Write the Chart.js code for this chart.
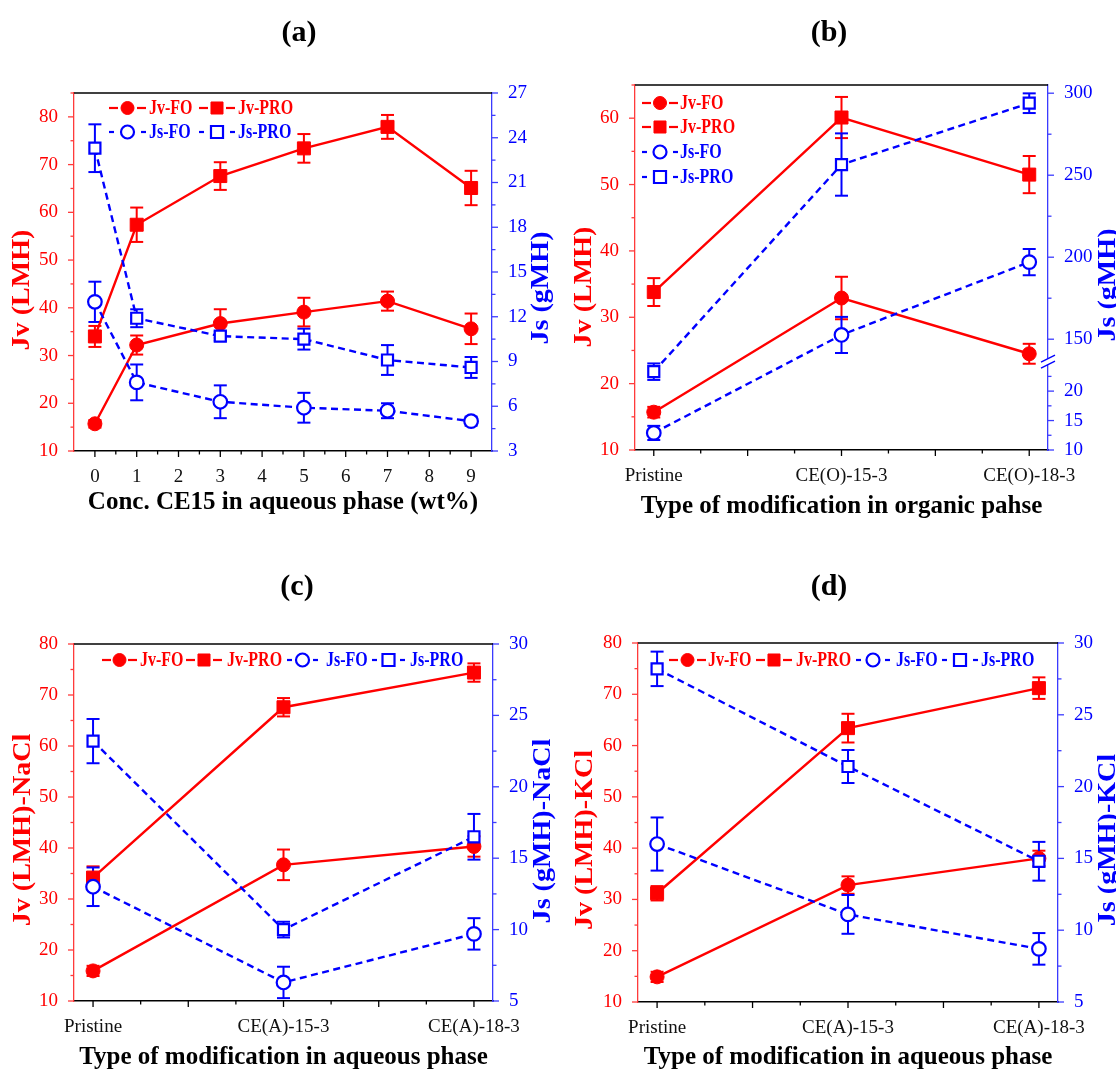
<!DOCTYPE html>
<html>
<head>
<meta charset="utf-8">
<script src="https://cdn.jsdelivr.net/npm/chart.js@4.4.1/dist/chart.umd.min.js"></script>
<style>
  html, body { margin: 0; padding: 0; background: #fff; }
  #wrap { position: relative; width: 1116px; height: 1073px; overflow: hidden; }
  canvas { position: absolute; }
</style>
</head>
<body>
<div id="wrap">
  <canvas id="cA" width="558" height="540" style="left:0;top:0"></canvas>
  <canvas id="cB" width="558" height="540" style="left:558px;top:0"></canvas>
  <canvas id="cC" width="558" height="533" style="left:0;top:540px"></canvas>
  <canvas id="cD" width="558" height="533" style="left:558px;top:540px"></canvas>
</div>
<script>
// ---- data ----
// (a) Conc. CE15 in aqueous phase
const concA = [0, 1, 3, 5, 7, 9];
const jvFoA = [15.7, 32.2, 36.7, 39.1, 41.4, 35.6];
const jvFoErrA = [0.8, 2.0, 3.0, 3.0, 2.0, 3.2];
const jvProA = [34.0, 57.4, 67.6, 73.4, 77.9, 65.1];
const jvProErrA = [2.2, 3.6, 2.9, 3.0, 2.5, 3.6];
const jsFoA = [13.0, 7.6, 6.3, 5.9, 5.7, 5.0];
const jsFoErrA = [1.35, 1.2, 1.1, 1.0, 0.5, 0.3];
const jsProA = [23.3, 11.9, 10.7, 10.5, 9.1, 8.6];
const jsProErrA = [1.6, 0.6, 0.3, 0.7, 1.0, 0.7];

// (b) organic phase modification
const catsB = ['Pristine', 'CE(O)-15-3', 'CE(O)-18-3'];
const jvFoB = [15.7, 32.9, 24.5];
const jvFoErrB = [0.8, 3.2, 1.5];
const jvProB = [33.8, 60.1, 51.5];
const jvProErrB = [2.1, 3.1, 2.8];
const jsFoB = [12.9, 152.6, 197.0];
const jsFoErrB = [1.2, 11, 8];
const jsProB = [23.3, 256.5, 293.9];
const jsProErrB = [1.4, 19, 6];

// (c) aqueous phase modification, NaCl
const catsC = ['Pristine', 'CE(A)-15-3', 'CE(A)-18-3'];
const jvFoC = [15.9, 36.7, 40.3];
const jvFoErrC = [1.0, 3.0, 2.0];
const jvProC = [34.2, 67.6, 74.4];
const jvProErrC = [2.2, 1.8, 1.8];
const jsFoC = [13.0, 6.3, 9.7];
const jsFoErrC = [1.35, 1.1, 1.1];
const jsProC = [23.2, 10.0, 16.5];
const jsProErrC = [1.55, 0.55, 1.6];

// (d) aqueous phase modification, KCl
const catsD = ['Pristine', 'CE(A)-15-3', 'CE(A)-18-3'];
const jvFoD = [14.9, 32.8, 38.0];
const jvFoErrD = [1.0, 1.7, 1.5];
const jvProD = [31.2, 63.4, 71.2];
const jvProErrD = [1.4, 2.8, 2.1];
const jsFoD = [16.0, 11.1, 8.7];
const jsFoErrD = [1.85, 1.35, 1.1];
const jsProD = [28.2, 21.4, 14.8];
const jsProErrD = [1.2, 1.15, 1.35];

// ---- tick values ----
const xTicksA = [0, 1, 2, 3, 4, 5, 6, 7, 8, 9];
const xMinorA = [0.5, 1.5, 2.5, 3.5, 4.5, 5.5, 6.5, 7.5, 8.5];
const catTicks = [0, 1, 2];
const catLong = [0.5, 1.5];
const catMinor = [0.25, 0.75, 1.25, 1.75];
const jvTicksA = [10, 20, 30, 40, 50, 60, 70, 80];
const jvMinorA = [15, 25, 35, 45, 55, 65, 75, 85];
const jsTicksA = [3, 6, 9, 12, 15, 18, 21, 24, 27];
const jsMinorA = [4.5, 7.5, 10.5, 13.5, 16.5, 19.5, 22.5, 25.5];
const jvTicksB = [10, 20, 30, 40, 50, 60];
const jvMinorB = [15, 25, 35, 45, 55, 65];
const jsTicksB = [10, 15, 20, 150, 200, 250, 300];
const jsMinorB = [12.5, 17.5, 22.5, 175, 225, 275];
const jvTicksCD = [10, 20, 30, 40, 50, 60, 70, 80];
const jvMinorCD = [15, 25, 35, 45, 55, 65, 75];
const jsTicksCD = [5, 10, 15, 20, 25, 30];
const jsMinorCD = [7.5, 12.5, 17.5, 22.5, 27.5];

const SERIF = '"Liberation Serif", "Times New Roman", serif';
const RED = '#ff0000';
const BLUE = '#0000ff';
const RED_AXIS = '#ff3b3b';
const BLUE_AXIS = '#3b3bff';

// linear scale with a gap (used for Js in panel b)
class BrokenScale extends Chart.LinearScale {
  getPixelForValue(v) {
    const b = this.options.brk;
    const lowH = (this.bottom - this.top) * b.lowFrac;
    const yb = this.bottom - lowH;
    if (v <= b.lowMax) return this.bottom - (v - this.min) / (b.lowMax - this.min) * lowH;
    return yb - (v - b.highMin) / (this.max - b.highMin) * (yb - this.top);
  }
  getValueForPixel(px) {
    const b = this.options.brk;
    const lowH = (this.bottom - this.top) * b.lowFrac;
    const yb = this.bottom - lowH;
    if (px >= yb) return this.min + (this.bottom - px) / lowH * (b.lowMax - this.min);
    return b.highMin + (yb - px) / (yb - this.top) * (this.max - b.highMin);
  }
}
BrokenScale.id = 'broken';
BrokenScale.defaults = Chart.LinearScale.defaults;
Chart.register(BrokenScale);

function tickList(major, minor, long) {
  return major.map(v => ({value: v}))
    .concat(minor.map(v => ({value: v, minor: true})))
    .concat((long || []).map(v => ({value: v, hide: true})))
    .sort((a, b) => a.value - b.value);
}

function ds(label, xs, ys, errs) {
  const jv = label.startsWith('Jv');
  const fo = label.endsWith('FO');
  const c = jv ? RED : BLUE;
  const r = fo ? (jv ? 7 : 6.8) : (jv ? 9.2 : 7.8);
  return {
    label: label,
    errors: errs,
    data: xs.map((x, i) => ({x: x, y: ys[i]})),
    yAxisID: jv ? 'y' : 'y2',
    order: jv ? 1 : 0,
    borderColor: c,
    backgroundColor: c,
    borderWidth: 2.4,
    borderDash: jv ? [] : [7, 4.5],
    pointStyle: fo ? 'circle' : 'rect',
    pointRadius: r,
    pointHoverRadius: r,
    pointBackgroundColor: jv ? c : '#fff',
    pointBorderColor: c,
    pointBorderWidth: jv ? 1 : 2.2,
    tension: 0
  };
}

function axisX(min, max, ticks, fmt, title, h, tpad) {
  return {
    type: 'linear', position: 'bottom', min: min, max: max,
    grid: {display: false},
    border: {display: true, color: '#000', width: 1.5},
    afterBuildTicks: s => { s.ticks = ticks.map(t => Object.assign({}, t)); },
    afterFit: s => { s.height = h; },
    ticks: {
      autoSkip: false, maxRotation: 0, padding: 7, color: '#111',
      font: {family: SERIF, size: 19},
      callback: (v, i, ts) => (ts[i].minor || ts[i].hide) ? '' : fmt(v)
    },
    title: {display: true, text: title, color: '#000',
      font: {family: SERIF, size: 25, weight: 'bold'}, padding: {top: 0, bottom: tpad}}
  };
}

function axisY(pos, min, max, ticks, color, axisColor, w, extra) {
  return Object.assign({
    type: 'linear', position: pos, min: min, max: max,
    grid: {display: false},
    border: {display: true, color: axisColor, width: 1.3},
    afterBuildTicks: s => { s.ticks = ticks.map(t => Object.assign({}, t)); },
    afterFit: s => { s.width = w; },
    ticks: {
      autoSkip: false, padding: 8, color: color,
      font: {family: SERIF, size: 19},
      callback: (v, i, ts) => ts[i].minor ? '' : String(v)
    }
  }, extra || {});
}

function line(ctx, x0, y0, x1, y1) {
  ctx.beginPath(); ctx.moveTo(x0, y0); ctx.lineTo(x1, y1); ctx.stroke();
}

const deco = {
  id: 'deco',
  beforeDatasetsDraw(chart) {
    const ctx = chart.ctx;
    chart.data.datasets.forEach((d, i) => {
      const meta = chart.getDatasetMeta(i);
      const xs = chart.scales[meta.xAxisID], ys = chart.scales[meta.yAxisID];
      ctx.save();
      ctx.strokeStyle = d.borderColor;
      ctx.lineWidth = 2;
      d.data.forEach((p, j) => {
        const e = d.errors[j];
        const x = xs.getPixelForValue(p.x);
        const top = ys.getPixelForValue(p.y + e), bot = ys.getPixelForValue(p.y - e);
        line(ctx, x, top, x, bot);
        line(ctx, x - 6.5, top, x + 6.5, top);
        line(ctx, x - 6.5, bot, x + 6.5, bot);
      });
      ctx.restore();
    });
  },
  afterDraw(chart, args, o) {
    const ctx = chart.ctx, a = chart.chartArea;
    ctx.save();
    ctx.strokeStyle = '#000';
    ctx.lineWidth = 1.5;
    line(ctx, a.left, a.top, a.right, a.top);

    // tick marks, long for majors and short for minors
    Object.values(chart.scales).forEach(s => {
      ctx.strokeStyle = s.options.border.color;
      ctx.lineWidth = 1.3;
      s.ticks.forEach(t => {
        const p = s.getPixelForValue(t.value);
        const len = t.minor ? 3.5 : 6;
        if (s.isHorizontal()) line(ctx, p, s.top, p, s.top + len);
        else if (s.position === 'left') line(ctx, s.right, p, s.right - len, p);
        else line(ctx, s.left, p, s.left + len, p);
      });
    });

    // axis break marks
    if (o.brk) {
      const s = chart.scales.y2;
      const yb = s.getPixelForValue(o.brk);
      ctx.fillStyle = '#fff';
      ctx.fillRect(s.left - 2, yb - 3, 4, 6);
      ctx.strokeStyle = BLUE;
      ctx.lineWidth = 1.5;
      line(ctx, s.left - 7, yb - 3 + 3.5, s.left + 7, yb - 3 - 3.5);
      line(ctx, s.left - 7, yb + 3 + 3.5, s.left + 7, yb + 3 - 3.5);
    }

    // legend
    chart.data.datasets.forEach((d, k) => {
      const it = o.legend[k];
      const seg = d.borderDash.length ? 5 : 9;
      ctx.setLineDash([]);
      ctx.strokeStyle = d.borderColor;
      ctx.lineWidth = 2.2;
      line(ctx, it.x0, it.y, it.x0 + seg, it.y);
      line(ctx, it.x1 - seg, it.y, it.x1, it.y);
      ctx.fillStyle = d.pointBackgroundColor;
      ctx.strokeStyle = d.pointBorderColor;
      ctx.lineWidth = d.pointBorderWidth;
      Chart.helpers.drawPoint(ctx, {
        pointStyle: d.pointStyle, rotation: 0, borderWidth: d.pointBorderWidth,
        radius: d.pointStyle === 'circle' ? 6.5 : 8.5
      }, (it.x0 + it.x1) / 2, it.y);
      ctx.save();
      ctx.translate(it.tx, it.y + 1);
      ctx.scale(1, 1.3);
      ctx.fillStyle = d.borderColor;
      ctx.font = 'bold 16px ' + SERIF;
      ctx.textAlign = 'left';
      ctx.textBaseline = 'middle';
      ctx.fillText(d.label, 0, 0);
      ctx.restore();
    });

    // vertical axis titles (both read bottom to top)
    o.vt.forEach(t => {
      ctx.save();
      ctx.translate(t.x, t.y);
      ctx.rotate(-Math.PI / 2);
      ctx.scale(1.08, 1);
      ctx.font = 'bold 26px ' + SERIF;
      ctx.fillStyle = t.color;
      ctx.textAlign = 'center';
      ctx.textBaseline = 'middle';
      ctx.fillText(t.text, 0, 0);
      ctx.restore();
    });

    // panel tag
    ctx.font = 'bold 30px ' + SERIF;
    ctx.fillStyle = '#000';
    ctx.textAlign = 'center';
    ctx.textBaseline = 'middle';
    ctx.fillText(o.tag.text, o.tag.x, o.tag.y);
    ctx.restore();
  }
};

function panel(id, datasets, scales, padTop, decoOpts) {
  return new Chart(document.getElementById(id), {
    type: 'line',
    data: {datasets: datasets},
    options: {
      responsive: false,
      animation: false,
      layout: {padding: {top: padTop, left: 0, right: 0, bottom: 0}},
      scales: scales,
      plugins: {legend: {display: false}, tooltip: {enabled: false}, deco: decoOpts}
    },
    plugins: [deco]
  });
}

const idx = cats => cats.map((c, i) => i);
const catTickList = tickList(catTicks, catMinor, catLong);

// (a)
panel('cA', [
  ds('Jv-FO', concA, jvFoA, jvFoErrA),
  ds('Jv-PRO', concA, jvProA, jvProErrA),
  ds('Js-FO', concA, jsFoA, jsFoErrA),
  ds('Js-PRO', concA, jsProA, jsProErrA)
], {
  x: axisX(-0.5, 9.5, tickList(xTicksA, xMinorA), v => String(v),
    'Conc. CE15 in aqueous phase (wt%)', 89, 22),
  y: axisY('left', 10, 85, tickList(jvTicksA, jvMinorA), RED, RED_AXIS, 74),
  y2: axisY('right', 3, 27, tickList(jsTicksA, jsMinorA), BLUE, BLUE_AXIS, 66)
}, 93, {
  tag: {text: '(a)', x: 299, y: 33},
  vt: [{text: 'Jv (LMH)', x: 22, y: 290, color: RED}, {text: 'Js (gMH)', x: 541, y: 288, color: BLUE}],
  legend: [
    {x0: 109, x1: 146, tx: 149, y: 108}, {x0: 199, x1: 235, tx: 238, y: 108},
    {x0: 109, x1: 146, tx: 149, y: 132}, {x0: 199, x1: 235, tx: 238, y: 132}
  ]
});

// (b)
panel('cB', [
  ds('Jv-FO', idx(catsB), jvFoB, jvFoErrB),
  ds('Jv-PRO', idx(catsB), jvProB, jvProErrB),
  ds('Js-FO', idx(catsB), jsFoB, jsFoErrB),
  ds('Js-PRO', idx(catsB), jsProB, jsProErrB)
], {
  x: axisX(-0.1, 2.1, catTickList, v => catsB[v], 'Type of modification in organic pahse', 90, 18),
  y: axisY('left', 10, 65, tickList(jvTicksB, jvMinorB), RED, RED_AXIS, 77),
  y2: axisY('right', 10, 305, tickList(jsTicksB, jsMinorB), BLUE, BLUE_AXIS, 68,
    {type: 'broken', brk: {lowMax: 25, highMin: 136.3, lowFrac: 0.242}})
}, 85, {
  tag: {text: '(b)', x: 271, y: 33},
  brk: 25,
  vt: [{text: 'Jv (LMH)', x: 26, y: 287, color: RED}, {text: 'Js (gMH)', x: 550, y: 285, color: BLUE}],
  legend: [
    {x0: 84, x1: 120, tx: 122, y: 103}, {x0: 84, x1: 120, tx: 122, y: 127},
    {x0: 84, x1: 120, tx: 122, y: 152}, {x0: 84, x1: 120, tx: 122, y: 177}
  ]
});

// (c)
panel('cC', [
  ds('Jv-FO', idx(catsC), jvFoC, jvFoErrC),
  ds('Jv-PRO', idx(catsC), jvProC, jvProErrC),
  ds('Js-FO', idx(catsC), jsFoC, jsFoErrC),
  ds('Js-PRO', idx(catsC), jsProC, jsProErrC)
], {
  x: axisX(-0.1, 2.1, catTickList, v => catsC[v], 'Type of modification in aqueous phase', 72, 0),
  y: axisY('left', 10, 80, tickList(jvTicksCD, jvMinorCD), RED, RED_AXIS, 74),
  y2: axisY('right', 5, 30, tickList(jsTicksCD, jsMinorCD), BLUE, BLUE_AXIS, 65)
}, 104, {
  tag: {text: '(c)', x: 297, y: 47},
  vt: [{text: 'Jv (LMH)-NaCl', x: 23, y: 290, color: RED}, {text: 'Js (gMH)-NaCl', x: 543, y: 291, color: BLUE}],
  legend: [
    {x0: 102, x1: 137, tx: 140, y: 120}, {x0: 186, x1: 222, tx: 227, y: 120},
    {x0: 287, x1: 318, tx: 326, y: 120}, {x0: 372, x1: 405, tx: 410, y: 120}
  ]
});

// (d)
panel('cD', [
  ds('Jv-FO', idx(catsD), jvFoD, jvFoErrD),
  ds('Jv-PRO', idx(catsD), jvProD, jvProErrD),
  ds('Js-FO', idx(catsD), jsFoD, jsFoErrD),
  ds('Js-PRO', idx(catsD), jsProD, jsProErrD)
], {
  x: axisX(-0.1, 2.1, catTickList, v => catsD[v], 'Type of modification in aqueous phase', 71, 0),
  y: axisY('left', 10, 80, tickList(jvTicksCD, jvMinorCD), RED, RED_AXIS, 80),
  y2: axisY('right', 5, 30, tickList(jsTicksCD, jsMinorCD), BLUE, BLUE_AXIS, 58)
}, 103, {
  tag: {text: '(d)', x: 271, y: 47},
  vt: [{text: 'Jv (LMH)-KCl', x: 27, y: 300, color: RED}, {text: 'Js (gMH)-KCl', x: 550, y: 300, color: BLUE}],
  legend: [
    {x0: 111, x1: 148, tx: 150, y: 120}, {x0: 198, x1: 234, tx: 238, y: 120},
    {x0: 298, x1: 332, tx: 338, y: 120}, {x0: 384, x1: 420, tx: 423, y: 120}
  ]
});
</script>
</body>
</html>
